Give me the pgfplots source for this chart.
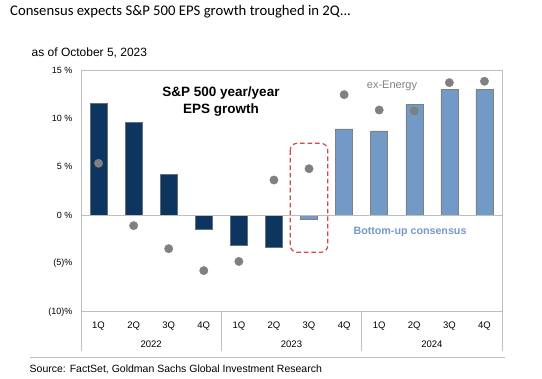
\documentclass[border=0pt]{standalone}
\usepackage{pgfplots}
\pgfplotsset{compat=1.18}
\usepackage{fontspec}
\setmainfont{Liberation Sans}
\newfontfamily\carlito{Carlito}
\definecolor{navy}{RGB}{12,54,96}
\definecolor{lblue}{RGB}{115,153,198}
\definecolor{dotgray}{RGB}{128,128,128}
\definecolor{axgray}{RGB}{190,190,190}
\definecolor{dred}{RGB}{214,72,72}
\begin{document}
\begin{tikzpicture}
\path[use as bounding box] (0pt,0pt) rectangle (542pt,379pt);
\node[anchor=west,inner sep=0,font=\carlito\fontsize{14.7}{16}\selectfont] at (10pt,367pt) {Consensus expects S\&P 500 EPS growth troughed in 2Q...};
\node[anchor=west,inner sep=0,font=\fontsize{12}{14}\selectfont] at (31.5pt,326.5pt) {as of October 5, 2023};
\node[anchor=west,inner sep=0,font=\fontsize{10.5}{12}\selectfont] at (29.5pt,10pt) {Source: FactSet, Goldman Sachs Global Investment Research};
\draw[axgray,line width=1.3pt] (30pt,21.5pt) -- (505pt,21.5pt);
\begin{axis}[
  at={(81pt,67.3pt)}, anchor=south west,
  scale only axis, width=421pt, height=241.7pt,
  xmin=-0.5, xmax=11.5, ymin=-10, ymax=15,
  clip=false,
  axis line style={axgray,line width=0.8pt},
  major tick length=0pt,
  /pgf/number format/assume math mode=true,
  ytick={-10,-5,0,5,10,15},
  yticklabels={(10)\%,(5)\%,0 \%,5 \%,10 \%,15 \%},
  yticklabel style={font=\fontsize{9}{10}\selectfont, xshift=-5pt},
  xtick={0,...,11},
  xticklabels={1Q,2Q,3Q,4Q,1Q,2Q,3Q,4Q,1Q,2Q,3Q,4Q},
  xticklabel style={font=\fontsize{9.5}{10}\selectfont, yshift=-6.5pt},
  ybar, bar width=17pt,
]
\addplot[fill=navy, draw=gray!80!navy, line width=0.5pt, bar shift=0pt] coordinates {
(0,11.55) (1,9.59) (2,4.24) (3,-1.48) (4,-3.17) (5,-3.35)};
\addplot[fill=lblue, draw=gray, line width=0.5pt, bar shift=0pt] coordinates {
(6,-0.45) (7,8.9) (8,8.69) (9,11.45) (10,13.03) (11,13.0)};
\draw[axgray,line width=0.8pt] (axis cs:-0.5,0) -- (axis cs:11.5,0);
\addplot[only marks, mark=*, mark size=4.2pt, color=dotgray, forget plot] coordinates {
(0,5.35) (1,-1.1) (2,-3.48) (3,-5.75) (4,-4.8) (5,3.62) (6,4.79) (7,12.45) (8,10.86) (9,10.76) (10,13.69) (11,13.83)};
\draw[dred, line width=1.2pt, dash pattern=on 4.5pt off 3pt, rounded corners=7pt] (axis cs:5.465,7.42) rectangle (axis cs:6.535,-3.86);
\draw[axgray,line width=0.8pt] (axis cs:-0.5,-10) -- ([yshift=-39pt]axis cs:-0.5,-10);
\draw[axgray,line width=0.8pt] (axis cs:3.5,-10) -- ([yshift=-39pt]axis cs:3.5,-10);
\draw[axgray,line width=0.8pt] (axis cs:7.5,-10) -- ([yshift=-39pt]axis cs:7.5,-10);
\draw[axgray,line width=0.8pt] (axis cs:11.5,-10) -- ([yshift=-39pt]axis cs:11.5,-10);
\node[font=\fontsize{9.5}{10}\selectfont] at (axis cs:1.5,-10) [yshift=-33pt] {2022};
\node[font=\fontsize{9.5}{10}\selectfont] at (axis cs:5.5,-10) [yshift=-33pt] {2023};
\node[font=\fontsize{9.5}{10}\selectfont] at (axis cs:9.5,-10) [yshift=-33pt] {2024};
\end{axis}
\node[align=center,font=\bfseries\fontsize{13.5}{17}\selectfont] at (221pt,277.5pt) {S\&P 500 year/year\\EPS growth};
\node[font=\fontsize{11}{12}\selectfont, text=dotgray] at (392pt,293pt) {ex-Energy};
\node[font=\bfseries\fontsize{10.7}{12}\selectfont, text=lblue] at (410pt,147.3pt) {Bottom-up consensus};
\end{tikzpicture}
\end{document}
